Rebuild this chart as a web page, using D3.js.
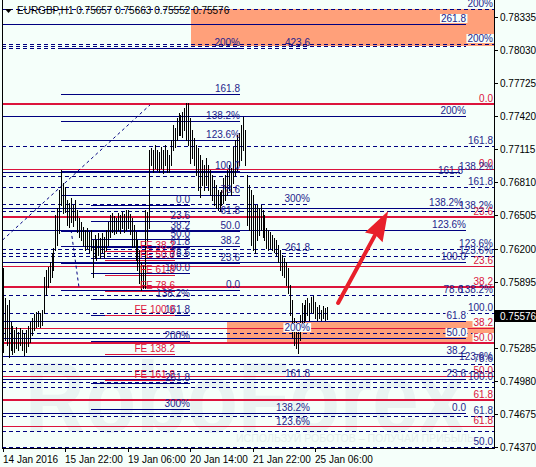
<!DOCTYPE html>
<html><head><meta charset="utf-8">
<script src="https://cdn.jsdelivr.net/npm/d3@7"></script>
<style>
html,body{margin:0;padding:0;background:#F5FFFA;}
svg{display:block;font-family:"Liberation Sans",Arial,sans-serif;}
</style>
</head><body>
<svg id="c" width="536" height="467"></svg>
<script>
// ---------- DATA ----------
const symbol = "EURGBP,H1";
const lastOHLC = [0.75657, 0.75663, 0.75552, 0.75576];
const timeTickBars = [0, 32, 64, 96, 128, 160];
const timeTickLabels = ["14 Jan 2016", "15 Jan 22:00", "19 Jan 06:00", "20 Jan 14:00", "21 Jan 22:00", "25 Jan 06:00"];
const priceTicks = [0.78335,0.78030,0.77725,0.77420,0.77115,0.76810,0.76505,0.76200,0.75895,0.75590,0.75285,0.74980,0.74675,0.74370];

const highs = [0.76020,0.75744,0.75679,0.75725,0.75522,0.75486,0.75449,0.75476,0.75430,0.75467,
0.75449,0.75421,0.75449,0.75486,0.75522,0.75559,0.75596,0.75615,0.75624,0.75605,
0.75633,0.75937,0.76002,0.76030,0.76076,0.76159,0.76205,0.76509,0.76574,0.76740,
0.76924,0.76804,0.76767,0.76648,0.76620,0.76666,0.76601,0.76648,0.76555,0.76482,
0.76445,0.76399,0.76371,0.76389,0.76352,0.76371,0.76279,0.76325,0.76279,0.76343,
0.76297,0.76343,0.76306,0.76371,0.76445,0.76509,0.76528,0.76500,0.76482,0.76528,
0.76509,0.76537,0.76518,0.76555,0.76555,0.76518,0.76482,0.76417,0.76352,0.76279,
0.76186,0.76076,0.76048,0.76555,0.76537,0.77109,0.77127,0.77109,0.77155,0.77109,
0.77090,0.77136,0.77109,0.77155,0.77109,0.77062,0.77201,0.77339,0.77311,0.77404,
0.77450,0.77431,0.77459,0.77496,0.77542,0.77542,0.77404,0.77293,0.77219,0.77155,
0.77127,0.77062,0.77016,0.76970,0.77035,0.76970,0.76924,0.76878,0.76832,0.76786,
0.76740,0.76721,0.76740,0.76850,0.76878,0.76924,0.76970,0.76943,0.77136,0.77201,
0.77247,0.77265,0.77339,0.77413,0.77293,0.76878,0.76786,0.76740,0.76694,0.76601,
0.76601,0.76574,0.76601,0.76555,0.76509,0.76389,0.76371,0.76352,0.76325,0.76297,
0.76279,0.76232,0.76186,0.76140,0.76113,0.76076,0.76020,0.75864,0.75725,0.75559,
0.75522,0.75495,0.75587,0.75698,0.75679,0.75725,0.75744,0.75698,0.75753,0.75762,
0.75707,0.75661,0.75679,0.75633,0.75670,0.75652,0.75663];
const lows = [0.75246,0.75356,0.75310,0.75200,0.75264,0.75227,0.75246,0.75283,0.75264,0.75310,
0.75264,0.75218,0.75246,0.75301,0.75338,0.75403,0.75449,0.75476,0.75486,0.75476,
0.75495,0.75605,0.75771,0.75845,0.75891,0.75937,0.76002,0.76186,0.76232,0.76343,
0.76601,0.76528,0.76537,0.76417,0.76399,0.76445,0.76408,0.76463,0.76352,0.76306,
0.76279,0.76232,0.76186,0.76205,0.76168,0.76186,0.75937,0.76113,0.76094,0.76140,
0.76113,0.76168,0.76122,0.76186,0.76232,0.76306,0.76352,0.76334,0.76343,0.76371,
0.76343,0.76389,0.76352,0.76371,0.76389,0.76334,0.76214,0.76214,0.76094,0.76002,
0.75882,0.75818,0.75836,0.75836,0.76279,0.76389,0.76970,0.76906,0.76943,0.76924,
0.76906,0.76943,0.76896,0.76970,0.76906,0.76906,0.76970,0.77109,0.77136,0.77201,
0.77247,0.77247,0.77228,0.77293,0.77201,0.77155,0.76989,0.77035,0.76970,0.76878,
0.76740,0.76675,0.76786,0.76740,0.76786,0.76740,0.76694,0.76648,0.76601,0.76574,
0.76555,0.76546,0.76601,0.76620,0.76648,0.76694,0.76740,0.76694,0.76804,0.76878,
0.76924,0.76970,0.77016,0.77109,0.76970,0.76417,0.76371,0.76232,0.76186,0.76159,
0.76279,0.76325,0.76371,0.76306,0.76279,0.76205,0.76186,0.76205,0.76186,0.76168,
0.76140,0.76076,0.76002,0.75956,0.75937,0.75864,0.75790,0.75587,0.75384,0.75310,
0.75283,0.75237,0.75356,0.75449,0.75513,0.75541,0.75587,0.75541,0.75615,0.75605,
0.75559,0.75541,0.75559,0.75541,0.75559,0.75541,0.75552];

// level lines: [price, fromBar, toBar, kind, label, labelBar]
const L = -2, R = 251.5;
const levels = [
[0.78406, L, R, "dash", "200%"],
[0.78270, L, 237.2, "solid", "261.8"],
[0.78089, L, R, "dash", "200%"],
[0.78063, L, 237.2, "dash", ""],
[0.78049, L, 157.3, "dash", "423.6"],
[0.78049, 29.9, 121.5, "solid", "200%"],
[0.77625, 29.9, 121.5, "solid", "161.8"],
[0.77536, L, R, "redb", "0.0"],
[0.77418, L, 237.2, "solid", "200%"],
[0.77376, 29.9, 121.5, "solid", "138.2%"],
[0.77201, 29.9, 121.5, "solid", "123.6%"],
[0.77145, L, R, "dash", "161.8"],
[0.76930, L, R, "red", "0.0"],
[0.76919, 29.9, 121.5, "solid", "100.0"],
[0.76902, L, 234.2, "solid", "138.2%", R],
[0.76869, L, 234.2, "dash", "161.8", 235.7],
[0.76770, L, R, "dash", "161.8"],
[0.76694, 29.9, 121.5, "solid", "78.6"],
[0.76610, L, 157.3, "dash", "300%"],
[0.76601, 45.2, 96, "solid", "0.0"],
[0.76578, L, 234.2, "solid", "138.2%", 235.7],
[0.76547, L, R, "dash", "138.2%"],
[0.76500, 29.9, 121.5, "solid", "61.8"],
[0.76494, L, R, "redb", "23.6"],
[0.76454, 45.2, 96, "solid", "23.6"],
[0.76374, L, 237.2, "solid", "123.6%"],
[0.76366, 29.9, 121.5, "solid", "50.0"],
[0.76362, 45.2, 96, "solid", "38.2"],
[0.76288, 45.2, 96, "solid", "50.0"],
[0.76228, 29.9, 121.5, "solid", "38.2"],
[0.76214, 45.2, 96, "solid", "61.8"],
[0.76193, L, R, "dash", "123.6%"],
[0.76180, 52.4, 88.2, "red", "FE 38.2"],
[0.76159, L, 157.3, "dash", "261.8"],
[0.76134, L, R, "dash", "123.6%"],
[0.76109, 45.2, 96, "solid", "78.6"],
[0.76094, 52.4, 88.2, "red", "FE 50.0"],
[0.76072, L, 237.2, "solid", "100.0"],
[0.76067, 29.9, 121.5, "solid", "23.6"],
[0.76039, L, R, "red", "23.6"],
[0.75974, 45.2, 96, "solid", "100.0"],
[0.75956, 52.4, 88.2, "red", "FE 61.8"],
[0.75842, L, R, "redb", "38.2"],
[0.75814, 29.9, 121.5, "solid", "0.0"],
[0.75808, 52.4, 88.2, "red", "FE 78.6"],
[0.75767, L, R, "dash", "138.2%"],
[0.75735, 45.2, 96, "solid", "138.2%"],
[0.75605, L, R, "dash", "100.0"],
[0.75587, 45.2, 96, "solid", "161.8"],
[0.75587, 52.4, 88.2, "red", "FE 100.0"],
[0.75532, L, 237.2, "solid", "61.8"],
[0.75470, L, R, "red", "38.2"],
[0.75420, L, R, "dash", ""],
[0.75375, L, 237.2, "solid", "50.0"],
[0.75347, 45.2, 96, "solid", "200%"],
[0.75330, L, R, "redb", "50.0"],
[0.75223, 52.4, 88.2, "red", "FE 138.2"],
[0.75209, L, 237.2, "solid", "38.2"],
[0.75133, L, R, "dash", "78.6"],
[0.75073, L, R, "dash", ""],
[0.75024, L, R, "red", "50.0"],
[0.75000, L, 237.2, "solid", "23.6"],
[0.74992, 52.4, 88.2, "red", "FE 161.8"],
[0.74969, L, R, "dash", "100.0"],
[0.74960, 45.2, 96, "solid", "261.8"],
[0.74920, L, R, "dash", ""],
[0.74803, L, R, "redb", "61.8"],
[0.74720, 45.2, 96, "solid", "300%"],
[0.74686, L, 237.2, "solid", "0.0"],
[0.74658, L, R, "dash", "61.8"],
[0.74566, L, R, "red", "61.8"],
[0.74517, L, R, "dash", ""],
[0.74373, L, R, "dash", "50.0"]
];
// free text notes: [text, bar, price]
const notes = [
["78.6", 235.7, 0.75767],
["200%", 157.3, 0.75420],
["161.8", 157.3, 0.75000],
["138.2%", 157.3, 0.74686],
["123.6%", 157.3, 0.74554],
["123.6%", R, 0.75154]
];
// shaded zones: [fromBar, toBar, priceTop, priceBottom]
const zones = [[96.4, R, 0.78406, 0.78068], [114.9, R, 0.75532, 0.75329]];
// dashed trend lines: [bar1, price1, bar2, price2]
const trendlines = [[0, 0.76279, 75.4, 0.77524], [35, 0.76371, 39.1, 0.75836]];
// arrow: [bar1, price1, bar2, price2]
const arrow = [171.7, 0.75698, 197.3, 0.76546];

// ---------- DRAW ----------
const svg = d3.select("#c");
const W = 536, H = 467, PL = 2, PR = 494, PB = 448;
const x = d3.scaleLinear().domain([0, 251.5]).range([2.7, 494]);
const y = d3.scaleLinear().domain([0.74370, 0.78335]).range([447, 17]);
const NAVY = "#000080", NAVYT = "#1e1e8c", RED = "#dc143c";
const kindStyle = {
  dash: {stroke: NAVY, w: 1, dash: "4,3", text: NAVYT},
  solid: {stroke: NAVY, w: 1, dash: null, text: NAVYT},
  red: {stroke: RED, w: 1, dash: null, text: RED},
  redb: {stroke: RED, w: 2, dash: null, text: RED}
};

svg.append("rect").attr("width", W).attr("height", H).attr("fill", "#F5FFFA");
svg.append("defs").append("clipPath").attr("id", "plot")
  .append("rect").attr("x", PL).attr("y", 0).attr("width", PR - PL).attr("height", PB);

const plot = svg.append("g").attr("clip-path", "url(#plot)");

// watermark
plot.append("text").attr("x", 25).attr("y", 432).attr("font-size", 100).attr("font-weight", "bold")
  .attr("textLength", 440).attr("lengthAdjust", "spacingAndGlyphs")
  .attr("fill", "#e9f4f2").text("RoboForex");
plot.append("text").attr("x", 236).attr("y", 442).attr("font-size", 10.5)
  .attr("textLength", 238).attr("lengthAdjust", "spacingAndGlyphs")
  .attr("fill", "#e6f0ee").text("ИСПОЛЬЗУЙ РОБОТОВ – ПОЛУЧАЙ ПРИБЫЛЬ");

// zones
plot.selectAll("rect.zone").data(zones).join("rect").attr("class", "zone")
  .attr("x", d => Math.round(x(d[0]))).attr("y", d => Math.round(y(d[2])))
  .attr("width", d => Math.min(PR, x(d[1])) - Math.round(x(d[0])))
  .attr("height", d => Math.round(y(d[3])) - Math.round(y(d[2])))
  .attr("fill", "#FFA07A");

// level lines
const crispY = (p, w) => w % 2 ? Math.round(y(p)) + 0.5 : Math.round(y(p));
plot.selectAll("line.lvl").data(levels).join("line").attr("class", "lvl")
  .attr("x1", d => Math.max(PL, Math.round(x(d[1]))))
  .attr("x2", d => Math.min(PR, Math.round(x(d[2]))))
  .attr("y1", d => crispY(d[0], kindStyle[d[3]].w))
  .attr("y2", d => crispY(d[0], kindStyle[d[3]].w))
  .attr("stroke", d => kindStyle[d[3]].stroke)
  .attr("stroke-width", d => kindStyle[d[3]].w)
  .attr("stroke-dasharray", d => kindStyle[d[3]].dash)
  .attr("shape-rendering", "crispEdges");

// trend lines
plot.selectAll("line.tl").data(trendlines).join("line").attr("class", "tl")
  .attr("x1", d => x(d[0])).attr("y1", d => y(d[1]))
  .attr("x2", d => x(d[2])).attr("y2", d => y(d[3]))
  .attr("stroke", NAVY).attr("stroke-width", 1).attr("stroke-dasharray", "3,3");

// price bars
plot.selectAll("line.bar").data(highs.map((h, i) => [i, h, lows[i]])).join("line").attr("class", "bar")
  .attr("x1", d => Math.round(x(d[0])) + 0.5).attr("x2", d => Math.round(x(d[0])) + 0.5)
  .attr("y1", d => Math.round(y(d[1]))).attr("y2", d => Math.round(y(d[2])) + 1)
  .attr("stroke", "#000").attr("stroke-width", 1).attr("shape-rendering", "crispEdges");

// labels
function inZone(bar, price) {
  return zones.some(z => bar >= z[0] && price <= z[2] && price >= z[3]);
}
const labelData = [];
levels.forEach(d => {
  if (!d[4]) return;
  const lb = d.length > 5 ? d[5] : d[2];
  labelData.push({t: d[4], bar: lb, p: d[0], c: kindStyle[d[3]].text});
});
notes.forEach(n => labelData.push({t: n[0], bar: n[1], p: n[2], c: NAVYT}));
const lg = plot.append("g").attr("font-size", 10);
labelData.forEach(d => {
  const tx = Math.min(493, Math.round(x(d.bar)));
  const ty = Math.round(y(d.p)) - 2;
  const t = lg.append("text").attr("x", tx).attr("y", ty).attr("text-anchor", "end")
    .attr("fill", d.c).text(d.t);
  if (inZone(d.bar - 3, d.p)) {
    const b = t.node().getBBox();
    lg.insert("rect", () => t.node()).attr("x", b.x - 1).attr("y", b.y + 1)
      .attr("width", b.width + 2).attr("height", b.height - 2).attr("fill", "#F5FFFA");
  }
});

// arrow
{
  const x1 = x(arrow[0]), y1 = y(arrow[1]), x2 = x(arrow[2]), y2 = y(arrow[3]);
  const len = Math.hypot(x2 - x1, y2 - y1), ux = (x2 - x1) / len, uy = (y2 - y1) / len;
  const hl = 30, hw = 10, bx = x2 - hl * ux, by = y2 - hl * uy;
  plot.append("line").attr("x1", x1).attr("y1", y1).attr("x2", bx + 4 * ux).attr("y2", by + 4 * uy)
    .attr("stroke", "#e8202a").attr("stroke-width", 4).attr("stroke-linecap", "round");
  plot.append("polygon").attr("fill", "#e8202a")
    .attr("points", [[x2, y2], [bx - hw * uy, by + hw * ux], [bx + 3 * ux, by + 3 * uy], [bx + hw * uy, by - hw * ux]].map(p => p.join(",")).join(" "));
}

// title
svg.append("polygon").attr("points", "5,9 12,9 8.5,13").attr("fill", "#000");
svg.append("text").attr("x", 17).attr("y", 14).attr("font-size", 10).attr("fill", "#000")
  .text(symbol + " " + lastOHLC.map(v => v.toFixed(5)).join(" "));

// frame
svg.append("line").attr("x1", 2.5).attr("x2", 2.5).attr("y1", 0).attr("y2", PB + 1).attr("stroke", "#000");
svg.append("line").attr("x1", 494.5).attr("x2", 494.5).attr("y1", 0).attr("y2", PB + 1).attr("stroke", "#000");
svg.append("line").attr("x1", 2).attr("x2", 495).attr("y1", PB + 0.5).attr("y2", PB + 0.5).attr("stroke", "#000");

// price axis
const ya = svg.append("g").attr("font-size", 10);
priceTicks.forEach(p => {
  const py = Math.round(y(p)) + 0.5;
  ya.append("line").attr("x1", 494).attr("x2", 498).attr("y1", py).attr("y2", py).attr("stroke", "#000");
  ya.append("text").attr("x", 500).attr("y", py + 3.5).attr("fill", "#000").text(p.toFixed(5));
});
{
  const py = Math.round(y(lastOHLC[3]));
  ya.append("rect").attr("x", 494).attr("y", py - 6).attr("width", 42).attr("height", 12).attr("fill", "#000");
  ya.append("text").attr("x", 500).attr("y", py + 4).attr("fill", "#fff").text(lastOHLC[3].toFixed(5));
}

// time axis
const xa = svg.append("g").attr("font-size", 10);
timeTickBars.forEach((b, i) => {
  const px = Math.round(x(b)) + 0.5;
  xa.append("line").attr("x1", px).attr("x2", px).attr("y1", PB).attr("y2", PB + 4).attr("stroke", "#000");
  xa.append("text").attr("x", px - 0.5).attr("y", 463).attr("fill", "#000").text(timeTickLabels[i]);
});
</script>
</body></html>
